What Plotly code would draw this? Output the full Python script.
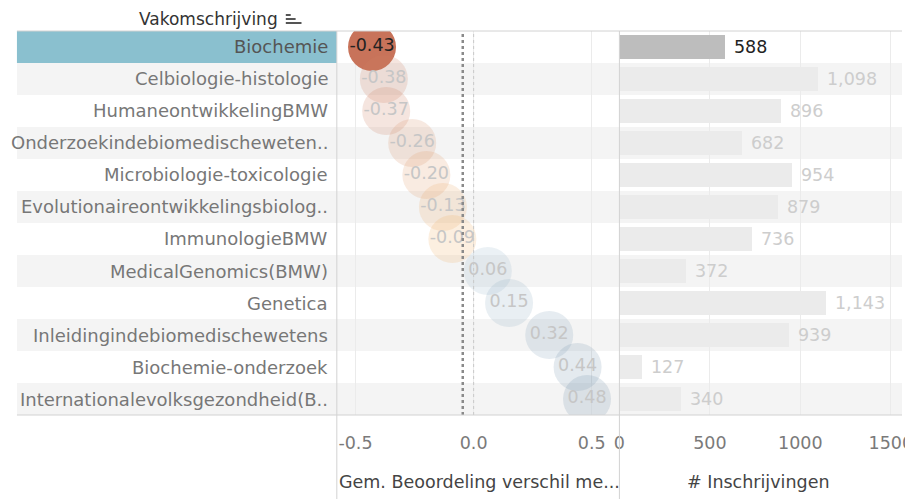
import plotly.graph_objects as go

# data
courses = [
    "Biochemie",
    "Celbiologie-histologie",
    "HumaneontwikkelingBMW",
    "Onderzoekindebiomedischeweten..",
    "Microbiologie-toxicologie",
    "Evolutionaireontwikkelingsbiolog..",
    "ImmunologieBMW",
    "MedicalGenomics(BMW)",
    "Genetica",
    "Inleidingindebiomedischewetens",
    "Biochemie-onderzoek",
    "Internationalevolksgezondheid(B..",
]
rating_diff = [-0.43, -0.38, -0.37, -0.26, -0.20, -0.13, -0.09, 0.06, 0.15, 0.32, 0.44, 0.48]
enrolments = [588, 1098, 896, 682, 954, 879, 736, 372, 1143, 939, 127, 340]
selected = "Biochemie"
avg_line = -0.046
zero_line = 0.0
diff_ticks = [-0.5, 0.0, 0.5]
count_ticks = [0, 500, 1000, 1500]

# the page puts the figure 8px in from the top-left corner, so the
# figure is made that much smaller and every pixel position shifted
OFF = 8
W, H = 913 - OFF, 499 - OFF
FONT = "DejaVu Sans"


def px_x(p):
    return (p - OFF) / W


def px_y(p):
    return 1 - (p - OFF) / H


rows = list(range(len(courses)))
is_sel = [c == selected for c in courses]

colorscale = [
    [0.0, "#bd654c"],
    [0.07, "#c8735a"],
    [0.24, "#d7936b"],
    [0.41, "#eeae66"],
    [0.5, "#e6e1da"],
    [0.56, "#9bb7cb"],
    [1.0, "#7390ab"],
]

fig = go.Figure()

fig.add_trace(
    go.Scatter(
        x=rating_diff,
        y=rows,
        mode="markers+text",
        marker=dict(
            size=48,
            color=rating_diff,
            colorscale=colorscale,
            cmin=-0.5,
            cmax=0.5,
            opacity=[1 if s else 0.2 for s in is_sel],
            line=dict(width=0),
        ),
        texttemplate="%{x:.2f}",
        textposition="middle center",
        textfont=dict(
            family=FONT, size=17.5,
            color=["#222222" if s else "#c6c6c6" for s in is_sel],
        ),
        xaxis="x",
        yaxis="y",
        hoverinfo="skip",
        showlegend=False,
    )
)

fig.add_trace(
    go.Bar(
        x=enrolments,
        y=rows,
        orientation="h",
        width=0.72,
        marker=dict(
            color=["#bdbdbd" if s else "#ebebeb" for s in is_sel],
            line=dict(width=0),
        ),
        texttemplate=" %{x:,}",
        textposition="outside",
        cliponaxis=False,
        textfont=dict(
            family=FONT, size=17.5,
            color=["#222222" if s else "#cdcdcd" for s in is_sel],
        ),
        xaxis="x2",
        yaxis="y",
        hoverinfo="skip",
        showlegend=False,
    )
)

shapes = []
# row banding across all panels
for i in rows:
    if i % 2 == 1:
        shapes.append(dict(
            type="rect", xref="paper", yref="y",
            x0=px_x(11), x1=1, y0=i - 0.5, y1=i + 0.5,
            fillcolor="#f4f4f4", line=dict(width=0), layer="below",
        ))
    if is_sel[i]:
        shapes.append(dict(
            type="rect", xref="paper", yref="y",
            x0=px_x(11), x1=px_x(337), y0=i - 0.5, y1=i + 0.5,
            fillcolor="#8ac0cf", line=dict(width=0), layer="below",
        ))

# reference lines
shapes.append(dict(
    type="line", xref="x", yref="y domain", x0=zero_line, x1=zero_line, y0=0, y1=1,
    line=dict(color="#c8c8c8", width=1, dash="dot"),
))
shapes.append(dict(
    type="line", xref="x", yref="y domain", x0=avg_line, x1=avg_line, y0=0, y1=1,
    line=dict(color="#8a8a8a", width=2.5, dash="dot"),
))

# panel borders
border = "#d2d2d2"
for xp in (337, 625):
    shapes.append(dict(
        type="line", xref="paper", yref="paper",
        x0=px_x(xp), x1=px_x(xp), y0=0, y1=px_y(31),
        line=dict(color=border, width=1),
    ))
for yp in (31, 415):
    shapes.append(dict(
        type="line", xref="paper", yref="paper",
        x0=px_x(11), x1=1, y0=px_y(yp), y1=px_y(yp),
        line=dict(color=border, width=1),
    ))

# sort icon next to the header
for yp, x_end in ((15, 290), (19, 295), (23, 301)):
    shapes.append(dict(
        type="line", xref="paper", yref="paper",
        x0=px_x(285), x1=px_x(x_end), y0=px_y(yp), y1=px_y(yp),
        line=dict(color="#555555", width=2),
    ))

annotations = []
for i, name in enumerate(courses):
    annotations.append(dict(
        x=px_x(330), y=i, xref="paper", yref="y",
        xanchor="right", yanchor="middle", showarrow=False,
        text=name,
        font=dict(family=FONT, size=18, color="#555555" if is_sel[i] else "#777777"),
    ))

annotations += [
    dict(
        x=px_x(133), y=px_y(19), xref="paper", yref="paper",
        xanchor="left", yanchor="middle", showarrow=False,
        text="Vakomschrijving",
        font=dict(family=FONT, size=17, color="#333333"),
    ),
    dict(
        x=px_x(337), y=px_y(482), xref="paper", yref="paper",
        xanchor="left", yanchor="middle", showarrow=False,
        text="Gem. Beoordeling verschil me...",
        font=dict(family=FONT, size=17.5, color="#444444"),
    ),
    dict(
        x=px_x(767), y=px_y(482), xref="paper", yref="paper",
        xanchor="center", yanchor="middle", showarrow=False,
        text="# Inschrijvingen",
        font=dict(family=FONT, size=17.5, color="#444444"),
    ),
]

tick_font = dict(family=FONT, size=17.5, color="#7a7a7a")

fig.update_layout(
    width=W,
    height=H,
    margin=dict(l=0, r=0, t=0, b=0),
    paper_bgcolor="white",
    plot_bgcolor="rgba(0,0,0,0)",
    separators=".,",
    bargap=0,
    shapes=shapes,
    annotations=annotations,
    xaxis=dict(
        domain=[px_x(337), px_x(625)],
        range=[-0.579, 0.617],
        tickvals=diff_ticks,
        ticktext=["-0.5", "0.0", "0.5"],
        showgrid=True,
        gridcolor="#ebebeb",
        zeroline=False,
        showline=False,
        ticks="",
        ticklabelstandoff=15,
        ticklabeloverflow="allow",
        tickfont=tick_font,
        anchor="y",
        fixedrange=True,
    ),
    xaxis2=dict(
        domain=[px_x(625), 1],
        range=[0, 1562],
        tickvals=count_ticks,
        showgrid=True,
        gridcolor="#ebebeb",
        zeroline=False,
        showline=False,
        ticks="",
        ticklabelstandoff=15,
        ticklabeloverflow="allow",
        tickfont=tick_font,
        anchor="y",
        fixedrange=True,
    ),
    yaxis=dict(
        domain=[px_y(415), px_y(31)],
        range=[len(courses) - 0.5, -0.5],
        showticklabels=False,
        showgrid=False,
        zeroline=False,
        ticks="",
        fixedrange=True,
    ),
)

fig.write_html("out.html")
